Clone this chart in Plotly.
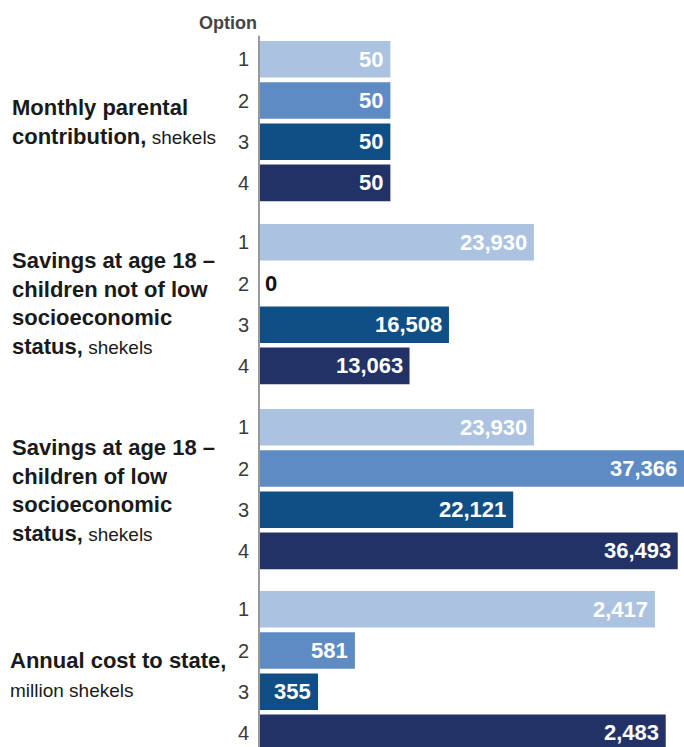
import plotly.graph_objects as go

# Options compared in each block
options = ["1", "2", "3", "4"]

# Block titles (bold part, unit part)
titles = [
    ("Monthly parental<br>contribution,", " shekels"),
    ("Savings at age 18 –<br>children not of low<br>socioeconomic<br>status,", " shekels"),
    ("Savings at age 18 –<br>children of low<br>socioeconomic<br>status,", " shekels"),
    ("Annual cost to state,", "<br>million shekels"),
]

# Values per block, in option order
monthly_contribution = [50, 50, 50, 50]
savings_not_low_ses = [23930, 0, 16508, 13063]
savings_low_ses = [23930, 37366, 22121, 36493]
annual_cost = [2417, 581, 355, 2483]
blocks = [monthly_contribution, savings_not_low_ses, savings_low_ses, annual_cost]

# Each block has its own horizontal scale
x_max = [162.6, 37040, 37040, 2595]

colors = ["#abc3e0", "#5e8bc3", "#104f86", "#233266"]

W, H = 684, 747
LEFT = 260
FONT = "Liberation Sans, Arial, sans-serif"

# Vertical layout of the blocks, in pixels from the top
pitch = 41.2
slot_tops = [38.7, 221.7, 406.7, 588.7]
title_centers = [122, 304, 490, 674.5]
title_left = [-250, -250, -250, -252]


def py(px):
    return 1 - px / H


fig = go.Figure()
layout = {}
annotations = []

for g, vals in enumerate(blocks):
    n = g + 1
    xa = "x" if n == 1 else f"x{n}"
    ya = "y" if n == 1 else f"y{n}"
    top = slot_tops[g]
    bottom = min(top + pitch * len(options), H)
    visible = (bottom - top) / pitch

    fig.add_trace(go.Bar(
        x=vals, y=options, orientation="h",
        marker=dict(color=colors, line=dict(width=0)),
        xaxis=xa, yaxis=ya, hoverinfo="skip", showlegend=False,
    ))

    layout[f"xaxis{'' if n == 1 else n}"] = dict(
        domain=[0, 1], range=[0, x_max[g]], visible=False,
        anchor=ya, fixedrange=True,
    )
    layout[f"yaxis{'' if n == 1 else n}"] = dict(
        domain=[py(bottom), py(top)],
        range=[-0.5 + visible, -0.5],
        type="category", categoryorder="array", categoryarray=options,
        anchor=xa,
        showgrid=False, zeroline=False, showline=False, ticks="",
        ticklabelstandoff=10,
        tickfont=dict(family=FONT, size=20, color="#3a3a3a"),
        fixedrange=True,
    )

    # Value labels (y given as category index); a bar running past the
    # plot edge gets its label at the visible end
    for i, v in enumerate(vals):
        inside = v > 0
        annotations.append(dict(
            x=min(v, x_max[g]), y=i, xref=xa, yref=ya, text=f"<b>{v:,}</b>",
            showarrow=False, yanchor="middle",
            xanchor="right" if inside else "left",
            xshift=-5 if inside else 3,
            font=dict(family=FONT, size=22,
                      color="#ffffff" if inside else "#111111"),
        ))

    # Block title
    bold, unit = titles[g]
    bold_html = "<br>".join(f"<b>{part}</b>" for part in bold.split("<br>"))
    if unit.startswith("<br>"):
        unit_html = "<br><span style='font-size:19px'>" + unit[4:] + "</span>"
    else:
        unit_html = "<span style='font-size:19px'>" + unit + "</span>"
    annotations.append(dict(
        x=0, y=py(title_centers[g]), xref="paper", yref="paper",
        xshift=title_left[g], xanchor="left", yanchor="middle", align="left",
        text=bold_html + unit_html, showarrow=False,
        font=dict(family=FONT, size=22, color="#1a1a1a"),
    ))

# Column header for the option numbers
annotations.append(dict(
    x=0, y=py(23), xref="paper", yref="paper", xshift=-1,
    xanchor="right", yanchor="middle", text="<b>Option</b>", showarrow=False,
    font=dict(family=FONT, size=18, color="#444444"),
))

layout.update(
    width=W, height=H,
    margin=dict(l=LEFT, r=0, t=0, b=0, pad=0),
    paper_bgcolor="#ffffff", plot_bgcolor="#ffffff",
    bargap=1 - 36.6 / pitch,
    annotations=annotations,
    shapes=[dict(
        type="line", xref="paper", yref="paper",
        x0=-1 / (W - LEFT), x1=-1 / (W - LEFT), y0=0, y1=py(35.7),
        line=dict(color="#999999", width=2),
    )],
    font=dict(family=FONT),
)
fig.update_layout(**layout)
fig.write_html("out.html")
